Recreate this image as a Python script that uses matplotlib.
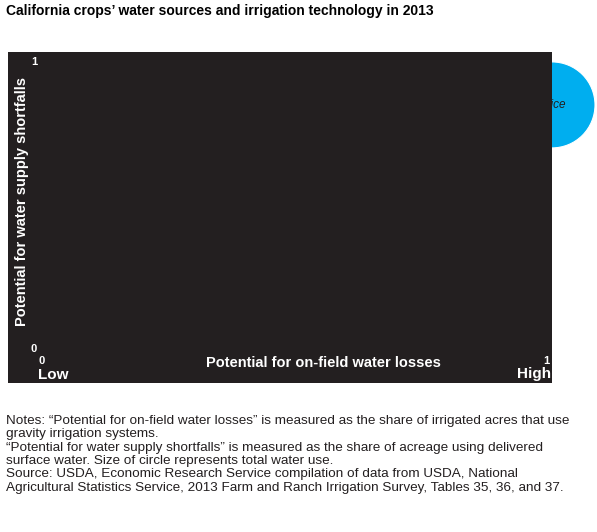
import matplotlib
matplotlib.use("Agg")
import matplotlib.pyplot as plt
from matplotlib.patches import Rectangle

plt.rcParams['font.family'] = ['Liberation Sans', 'DejaVu Sans']

crops = ["Orchards", "Vegetables", "Hay", "Rice", "Pasture", "Corn", "Other crops",
         "Cotton", "Wheat", "Dry edible beans", "Other small grains", "Sorghum", "Berries"]
x_vals = [0.158, 0.156, 0.746, 1.000, 0.883, 0.916, 0.285, 0.732, 0.645, 0.580, 0.621, 0.824, 0.021]
y_vals = [0.448, 0.569, 0.490, 0.852, 0.483, 0.507, 0.466, 0.807, 0.524, 0.755, 0.690, 0.317, 0.052]
water_use = [2704, 1024, 1600, 1849, 256, 576, 441, 289, 225, 25, 25, 16, 9]

labels = [
    ("Orchards,\nvineyards,\ntree nuts", 0.283, 0.238, "center"),
    ("Vegetables", 0.16, 0.717, "center"),
    ("Hay\n(alfalfa, and\nothers)", 0.746, 0.49, "center"),
    ("Rice", 1.004, 0.852, "center"),
    ("Pasture", 0.875, 0.403, "center"),
    ("Corn", 0.916, 0.514, "center"),
    ("Other crops", 0.332, 0.466, "left"),
    ("Cotton", 0.732, 0.893, "center"),
    ("Wheat", 0.602, 0.524, "center"),
    ("Dry edible\nbeans", 0.566, 0.828, "center"),
    ("Other\nsmall grains", 0.57, 0.672, "center"),
    ("Sorghum", 0.826, 0.276, "center"),
    ("Berries", 0.033, 0.079, "left"),
]

W, H = 597, 532
fig = plt.figure(figsize=(5.97, 5.32), dpi=100)
fig.patches.append(Rectangle((8/W, 1-383/H), 544/W, 331/H, transform=fig.transFigure,
                             facecolor="#231F20", edgecolor="none", zorder=0))
ax = fig.add_axes([40/W, 1-352/H, 512/W, 300/H])
ax.set_facecolor("#DCDDDE")
ax.set_xlim(0, 1)
ax.set_ylim(0, 300/290)
for s in ax.spines.values():
    s.set_visible(False)
ax.set_xticks([]); ax.set_yticks([])

sizes = [(2*(w**0.5)*0.72)**2 for w in water_use]
ax.scatter(x_vals, y_vals, s=sizes, c="#00AEEF", edgecolors="white", linewidths=0.8,
           zorder=2, clip_on=False)

for t, lx, ly, ha in labels:
    ax.text(lx, ly, t, ha=ha, va="center", fontsize=8.5, style="italic", zorder=3,
            color="#231F20", linespacing=1.1)

wt = dict(color="white", fontweight="bold")
fig.text(37/W, 1-62/H, "1", fontsize=8, ha="right", va="center", **wt)
fig.text(37/W, 1-349/H, "0", fontsize=8, ha="right", va="center", **wt)
fig.text(42/W, 1-361/H, "0", fontsize=8, ha="center", va="center", **wt)
fig.text(549/W, 1-361/H, "1", fontsize=8, ha="right", va="center", **wt)
fig.text(323/W, 1-363/H, "Potential for on-field water losses", fontsize=10.5,
         ha="center", va="center", **wt)
fig.text(22/W, 1-201/H, "Potential for water supply shortfalls", fontsize=10.5,
         ha="center", va="center", rotation=90, **wt)
fig.text(38/W, 1-375/H, "Low", fontsize=11, va="center", ha="left", **wt)
fig.text(551/W, 1-374/H, "High", fontsize=11, va="center", ha="right", **wt)
fig.text(6/W, 1-4/H, "California crops\u2019 water sources and irrigation technology in 2013",
         fontsize=10, fontweight="bold", va="top", ha="left")
notes = ("Notes: \u201cPotential for on-field water losses\u201d is measured as the share of irrigated acres that use\n"
         "gravity irrigation systems.\n"
         "\u201cPotential for water supply shortfalls\u201d is measured as the share of acreage using delivered\n"
         "surface water. Size of circle represents total water use.\n"
         "Source: USDA, Economic Research Service compilation of data from USDA, National\n"
         "Agricultural Statistics Service, 2013 Farm and Ranch Irrigation Survey, Tables 35, 36, and 37.")
fig.text(6/W, 1-415/H, notes, fontsize=9.7, va="top", ha="left", linespacing=1.15,
         color="#231F20")

fig.savefig("out.png", dpi=100)
